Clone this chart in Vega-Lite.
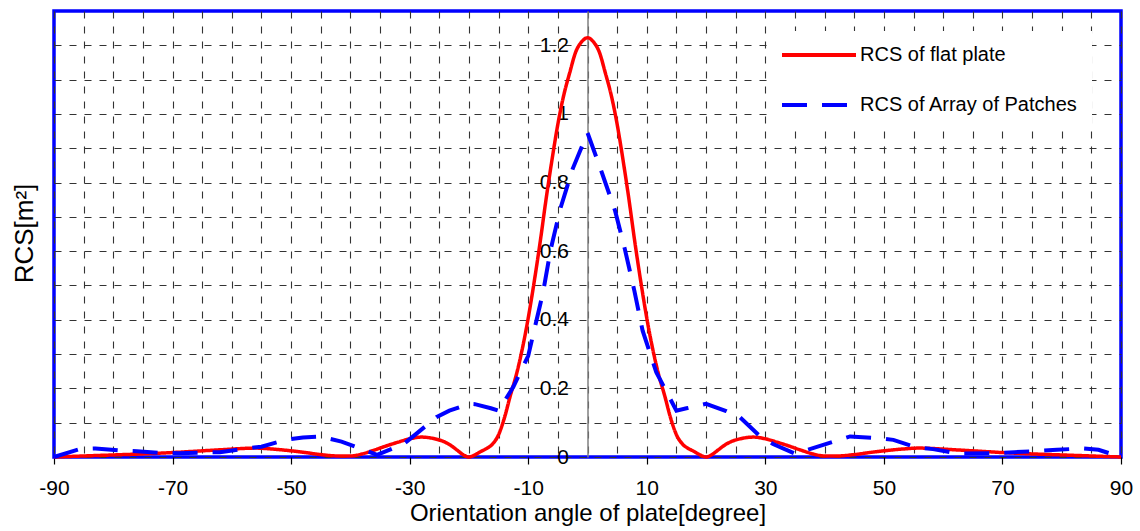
{
  "$schema": "https://vega.github.io/schema/vega-lite/v6.json",
  "width": 1067,
  "height": 446,
  "autosize": {"type": "none"},
  "padding": {"left": 54, "top": 11, "right": 19, "bottom": 74},
  "background": "white",
  "config": {
    "font": "Liberation Sans",
    "view": {"stroke": "#0000FF", "strokeWidth": 3.5},
    "axis": {
      "gridColor": "#333333",
      "gridDash": [7, 8],
      "gridWidth": 1.1,
      "gridOpacity": 1,
      "labelColor": "black",
      "labelFontSize": 21,
      "labelFont": "Liberation Sans",
      "titleFont": "Liberation Sans",
      "titleFontSize": 24,
      "titleFontWeight": "normal",
      "titleColor": "black"
    },
    "legend": {"labelFont": "Liberation Sans"}
  },
  "datasets": {
    "plate": [
      {"series": "RCS of flat plate", "angle": -90, "rcs": 0},
      {"series": "RCS of flat plate", "angle": -85, "rcs": 0.003},
      {"series": "RCS of flat plate", "angle": -80, "rcs": 0.006},
      {"series": "RCS of flat plate", "angle": -75, "rcs": 0.009},
      {"series": "RCS of flat plate", "angle": -70, "rcs": 0.013},
      {"series": "RCS of flat plate", "angle": -65, "rcs": 0.018},
      {"series": "RCS of flat plate", "angle": -60, "rcs": 0.023},
      {"series": "RCS of flat plate", "angle": -58, "rcs": 0.025},
      {"series": "RCS of flat plate", "angle": -56, "rcs": 0.026},
      {"series": "RCS of flat plate", "angle": -53, "rcs": 0.023},
      {"series": "RCS of flat plate", "angle": -50, "rcs": 0.018},
      {"series": "RCS of flat plate", "angle": -48, "rcs": 0.014},
      {"series": "RCS of flat plate", "angle": -45, "rcs": 0.007},
      {"series": "RCS of flat plate", "angle": -42, "rcs": 0.003},
      {"series": "RCS of flat plate", "angle": -40, "rcs": 0.003},
      {"series": "RCS of flat plate", "angle": -38, "rcs": 0.009},
      {"series": "RCS of flat plate", "angle": -36, "rcs": 0.02},
      {"series": "RCS of flat plate", "angle": -34, "rcs": 0.032},
      {"series": "RCS of flat plate", "angle": -32, "rcs": 0.043},
      {"series": "RCS of flat plate", "angle": -30, "rcs": 0.053},
      {"series": "RCS of flat plate", "angle": -28, "rcs": 0.058},
      {"series": "RCS of flat plate", "angle": -26, "rcs": 0.054},
      {"series": "RCS of flat plate", "angle": -24, "rcs": 0.043},
      {"series": "RCS of flat plate", "angle": -23, "rcs": 0.033},
      {"series": "RCS of flat plate", "angle": -22, "rcs": 0.02},
      {"series": "RCS of flat plate", "angle": -21, "rcs": 0.007},
      {"series": "RCS of flat plate", "angle": -20, "rcs": 0},
      {"series": "RCS of flat plate", "angle": -19, "rcs": 0.006},
      {"series": "RCS of flat plate", "angle": -18, "rcs": 0.016},
      {"series": "RCS of flat plate", "angle": -17, "rcs": 0.025},
      {"series": "RCS of flat plate", "angle": -16, "rcs": 0.038},
      {"series": "RCS of flat plate", "angle": -15, "rcs": 0.065},
      {"series": "RCS of flat plate", "angle": -14, "rcs": 0.115},
      {"series": "RCS of flat plate", "angle": -13, "rcs": 0.18},
      {"series": "RCS of flat plate", "angle": -12, "rcs": 0.24},
      {"series": "RCS of flat plate", "angle": -11, "rcs": 0.315},
      {"series": "RCS of flat plate", "angle": -10, "rcs": 0.405},
      {"series": "RCS of flat plate", "angle": -9, "rcs": 0.51},
      {"series": "RCS of flat plate", "angle": -8, "rcs": 0.625},
      {"series": "RCS of flat plate", "angle": -7, "rcs": 0.75},
      {"series": "RCS of flat plate", "angle": -6, "rcs": 0.865},
      {"series": "RCS of flat plate", "angle": -5, "rcs": 0.97},
      {"series": "RCS of flat plate", "angle": -4, "rcs": 1.055},
      {"series": "RCS of flat plate", "angle": -3, "rcs": 1.12},
      {"series": "RCS of flat plate", "angle": -2, "rcs": 1.18},
      {"series": "RCS of flat plate", "angle": -1, "rcs": 1.21},
      {"series": "RCS of flat plate", "angle": 0, "rcs": 1.222},
      {"series": "RCS of flat plate", "angle": 1, "rcs": 1.21},
      {"series": "RCS of flat plate", "angle": 2, "rcs": 1.18},
      {"series": "RCS of flat plate", "angle": 3, "rcs": 1.12},
      {"series": "RCS of flat plate", "angle": 4, "rcs": 1.055},
      {"series": "RCS of flat plate", "angle": 5, "rcs": 0.97},
      {"series": "RCS of flat plate", "angle": 6, "rcs": 0.865},
      {"series": "RCS of flat plate", "angle": 7, "rcs": 0.75},
      {"series": "RCS of flat plate", "angle": 8, "rcs": 0.625},
      {"series": "RCS of flat plate", "angle": 9, "rcs": 0.51},
      {"series": "RCS of flat plate", "angle": 10, "rcs": 0.405},
      {"series": "RCS of flat plate", "angle": 11, "rcs": 0.315},
      {"series": "RCS of flat plate", "angle": 12, "rcs": 0.24},
      {"series": "RCS of flat plate", "angle": 13, "rcs": 0.18},
      {"series": "RCS of flat plate", "angle": 14, "rcs": 0.115},
      {"series": "RCS of flat plate", "angle": 15, "rcs": 0.065},
      {"series": "RCS of flat plate", "angle": 16, "rcs": 0.038},
      {"series": "RCS of flat plate", "angle": 17, "rcs": 0.025},
      {"series": "RCS of flat plate", "angle": 18, "rcs": 0.016},
      {"series": "RCS of flat plate", "angle": 19, "rcs": 0.006},
      {"series": "RCS of flat plate", "angle": 20, "rcs": 0},
      {"series": "RCS of flat plate", "angle": 21, "rcs": 0.007},
      {"series": "RCS of flat plate", "angle": 22, "rcs": 0.02},
      {"series": "RCS of flat plate", "angle": 23, "rcs": 0.033},
      {"series": "RCS of flat plate", "angle": 24, "rcs": 0.043},
      {"series": "RCS of flat plate", "angle": 26, "rcs": 0.054},
      {"series": "RCS of flat plate", "angle": 28, "rcs": 0.058},
      {"series": "RCS of flat plate", "angle": 30, "rcs": 0.053},
      {"series": "RCS of flat plate", "angle": 32, "rcs": 0.043},
      {"series": "RCS of flat plate", "angle": 34, "rcs": 0.032},
      {"series": "RCS of flat plate", "angle": 36, "rcs": 0.02},
      {"series": "RCS of flat plate", "angle": 38, "rcs": 0.009},
      {"series": "RCS of flat plate", "angle": 40, "rcs": 0.003},
      {"series": "RCS of flat plate", "angle": 42, "rcs": 0.003},
      {"series": "RCS of flat plate", "angle": 45, "rcs": 0.007},
      {"series": "RCS of flat plate", "angle": 48, "rcs": 0.014},
      {"series": "RCS of flat plate", "angle": 50, "rcs": 0.018},
      {"series": "RCS of flat plate", "angle": 53, "rcs": 0.023},
      {"series": "RCS of flat plate", "angle": 56, "rcs": 0.026},
      {"series": "RCS of flat plate", "angle": 58, "rcs": 0.025},
      {"series": "RCS of flat plate", "angle": 60, "rcs": 0.023},
      {"series": "RCS of flat plate", "angle": 65, "rcs": 0.018},
      {"series": "RCS of flat plate", "angle": 70, "rcs": 0.013},
      {"series": "RCS of flat plate", "angle": 75, "rcs": 0.009},
      {"series": "RCS of flat plate", "angle": 80, "rcs": 0.006},
      {"series": "RCS of flat plate", "angle": 85, "rcs": 0.003},
      {"series": "RCS of flat plate", "angle": 90, "rcs": 0}
    ],
    "patches": [
      {"series": "RCS of Array of Patches", "angle": -90, "rcs": 0},
      {"series": "RCS of Array of Patches", "angle": -85.5, "rcs": 0.024},
      {"series": "RCS of Array of Patches", "angle": -83, "rcs": 0.025},
      {"series": "RCS of Array of Patches", "angle": -79, "rcs": 0.019},
      {"series": "RCS of Array of Patches", "angle": -76, "rcs": 0.017},
      {"series": "RCS of Array of Patches", "angle": -72, "rcs": 0.012},
      {"series": "RCS of Array of Patches", "angle": -69, "rcs": 0.011},
      {"series": "RCS of Array of Patches", "angle": -65, "rcs": 0.013},
      {"series": "RCS of Array of Patches", "angle": -62, "rcs": 0.014},
      {"series": "RCS of Array of Patches", "angle": -58, "rcs": 0.024},
      {"series": "RCS of Array of Patches", "angle": -55, "rcs": 0.03},
      {"series": "RCS of Array of Patches", "angle": -51, "rcs": 0.05},
      {"series": "RCS of Array of Patches", "angle": -48, "rcs": 0.057},
      {"series": "RCS of Array of Patches", "angle": -45, "rcs": 0.06},
      {"series": "RCS of Array of Patches", "angle": -44, "rcs": 0.055},
      {"series": "RCS of Array of Patches", "angle": -41.5, "rcs": 0.045},
      {"series": "RCS of Array of Patches", "angle": -37.5, "rcs": 0.02},
      {"series": "RCS of Array of Patches", "angle": -35.5, "rcs": 0.006},
      {"series": "RCS of Array of Patches", "angle": -31, "rcs": 0.038},
      {"series": "RCS of Array of Patches", "angle": -29, "rcs": 0.066},
      {"series": "RCS of Array of Patches", "angle": -25.5, "rcs": 0.116},
      {"series": "RCS of Array of Patches", "angle": -23.3, "rcs": 0.135},
      {"series": "RCS of Array of Patches", "angle": -20, "rcs": 0.155},
      {"series": "RCS of Array of Patches", "angle": -19, "rcs": 0.154},
      {"series": "RCS of Array of Patches", "angle": -16.3, "rcs": 0.142},
      {"series": "RCS of Array of Patches", "angle": -15, "rcs": 0.135},
      {"series": "RCS of Array of Patches", "angle": -12.5, "rcs": 0.205},
      {"series": "RCS of Array of Patches", "angle": -10, "rcs": 0.295},
      {"series": "RCS of Array of Patches", "angle": -7.5, "rcs": 0.48},
      {"series": "RCS of Array of Patches", "angle": -6.2, "rcs": 0.606},
      {"series": "RCS of Array of Patches", "angle": -4.6, "rcs": 0.723},
      {"series": "RCS of Array of Patches", "angle": -2.5, "rcs": 0.84},
      {"series": "RCS of Array of Patches", "angle": 0, "rcs": 0.945},
      {"series": "RCS of Array of Patches", "angle": 2.4, "rcs": 0.83},
      {"series": "RCS of Array of Patches", "angle": 4.65, "rcs": 0.718},
      {"series": "RCS of Array of Patches", "angle": 6.3, "rcs": 0.606},
      {"series": "RCS of Array of Patches", "angle": 7.9, "rcs": 0.485},
      {"series": "RCS of Array of Patches", "angle": 9.3, "rcs": 0.368},
      {"series": "RCS of Array of Patches", "angle": 11.6, "rcs": 0.247},
      {"series": "RCS of Array of Patches", "angle": 15, "rcs": 0.135},
      {"series": "RCS of Array of Patches", "angle": 16.7, "rcs": 0.142},
      {"series": "RCS of Array of Patches", "angle": 20, "rcs": 0.155},
      {"series": "RCS of Array of Patches", "angle": 23.4, "rcs": 0.134},
      {"series": "RCS of Array of Patches", "angle": 25.7, "rcs": 0.116},
      {"series": "RCS of Array of Patches", "angle": 29, "rcs": 0.062},
      {"series": "RCS of Array of Patches", "angle": 31.3, "rcs": 0.038},
      {"series": "RCS of Array of Patches", "angle": 35, "rcs": 0.01},
      {"series": "RCS of Array of Patches", "angle": 37.5, "rcs": 0.023},
      {"series": "RCS of Array of Patches", "angle": 41.7, "rcs": 0.046},
      {"series": "RCS of Array of Patches", "angle": 44.3, "rcs": 0.06},
      {"series": "RCS of Array of Patches", "angle": 48.8, "rcs": 0.055},
      {"series": "RCS of Array of Patches", "angle": 51.6, "rcs": 0.05},
      {"series": "RCS of Array of Patches", "angle": 55.5, "rcs": 0.028},
      {"series": "RCS of Array of Patches", "angle": 58.3, "rcs": 0.023},
      {"series": "RCS of Array of Patches", "angle": 62.5, "rcs": 0.01},
      {"series": "RCS of Array of Patches", "angle": 69, "rcs": 0.011},
      {"series": "RCS of Array of Patches", "angle": 72, "rcs": 0.014},
      {"series": "RCS of Array of Patches", "angle": 76.3, "rcs": 0.018},
      {"series": "RCS of Array of Patches", "angle": 79.2, "rcs": 0.021},
      {"series": "RCS of Array of Patches", "angle": 83.4, "rcs": 0.025},
      {"series": "RCS of Array of Patches", "angle": 86.2, "rcs": 0.021},
      {"series": "RCS of Array of Patches", "angle": 90, "rcs": 0}
    ]
  },
  "encoding": {
    "x": {
      "field": "angle",
      "type": "quantitative",
      "scale": {"domain": [-90, 90], "nice": false, "zero": false},
      "axis": {
        "values": [-90, -85, -80, -75, -70, -65, -60, -55, -50, -45, -40, -35, -30, -25, -20, -15, -10, -5, 0, 5, 10, 15, 20, 25, 30, 35, 40, 45, 50, 55, 60, 65, 70, 75, 80, 85, 90],
        "title": "Orientation angle of plate[degree]",
        "domain": false,
        "grid": true,
        "tickColor": "black",
        "tickSize": 7,
        "tickWidth": 1.2,
        "tickOpacity": {"condition": {"test": "(datum.value + 90) % 20 == 0", "value": 1}, "value": 0},
        "labelExpr": "(datum.value + 90) % 20 == 0 ? ((datum.value < 0 ? '-' : '') + abs(datum.value)) : ''",
        "labelPadding": 13,
        "labelFlush": false,
        "labelOverlap": false,
        "titlePadding": 3
      }
    },
    "y": {
      "field": "rcs",
      "type": "quantitative",
      "scale": {"domain": [0, 1.3], "nice": false},
      "axis": {
        "values": [0, 0.1, 0.2, 0.3, 0.4, 0.5, 0.6, 0.7, 0.8, 0.9, 1, 1.1, 1.2],
        "offset": -533.5,
        "grid": true,
        "ticks": false,
        "domainColor": "#808080",
        "domainWidth": 1.5,
        "format": "~g",
        "labelExpr": "indexof([0, 2, 4, 6, 8, 10, 12], round(datum.value * 10)) >= 0 ? datum.label : ''",
        "labelPadding": 19,
        "labelOverlap": false,
        "title": "RCS[m²]",
        "titleFontSize": 26,
        "titleX": -563,
        "titleY": 222,
        "titleAngle": -90,
        "titleAlign": "center",
        "titleBaseline": "middle"
      }
    },
    "color": {
      "field": "series",
      "type": "nominal",
      "scale": {"domain": ["RCS of flat plate", "RCS of Array of Patches"], "range": ["#FF0000", "#0000FF"]},
      "legend": {
        "orient": "none",
        "legendX": 714,
        "legendY": 20,
        "title": null,
        "fillColor": "white",
        "padding": 14,
        "symbolType": "M-10,0H10",
        "symbolSize": 54.76,
        "symbolOffset": 27,
        "symbolStrokeWidth": 4,
        "symbolFillColor": "transparent",
        "labelFontSize": 20,
        "labelColor": "black",
        "labelOffset": 31,
        "labelLimit": 500,
        "rowPadding": 30
      }
    },
    "strokeDash": {
      "field": "series",
      "type": "nominal",
      "scale": {"domain": ["RCS of flat plate", "RCS of Array of Patches"], "range": [[1, 0], [25, 15]]},
      "legend": {
        "orient": "none",
        "legendX": 714,
        "legendY": 20,
        "title": null,
        "fillColor": "white",
        "padding": 14,
        "symbolType": "M-10,0H10",
        "symbolSize": 54.76,
        "symbolOffset": 27,
        "symbolStrokeWidth": 4,
        "symbolFillColor": "transparent",
        "labelFontSize": 20,
        "labelColor": "black",
        "labelOffset": 31,
        "labelLimit": 500,
        "rowPadding": 30
      }
    }
  },
  "layer": [
    {
      "data": {"name": "plate"},
      "mark": {"type": "line", "interpolate": "monotone", "strokeWidth": 3.5}
    },
    {
      "data": {"name": "patches"},
      "mark": {"type": "line", "interpolate": "linear", "strokeWidth": 4}
    }
  ]
}
